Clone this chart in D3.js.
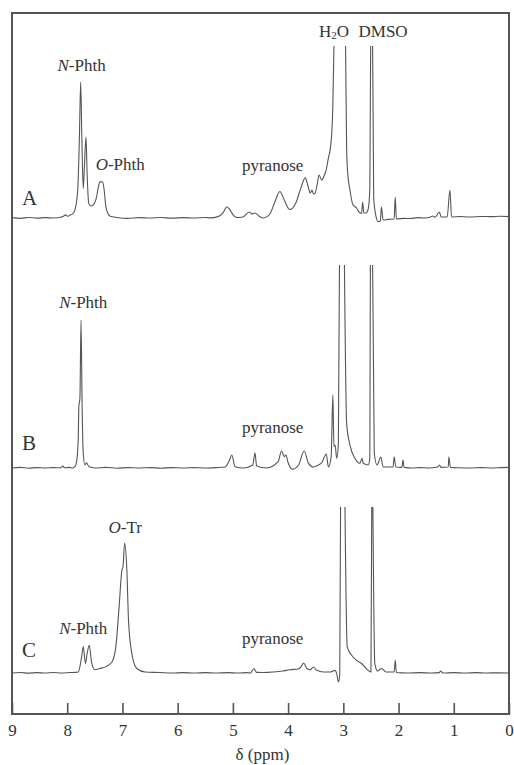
<!DOCTYPE html>
<html>
<head>
<meta charset="utf-8">
<script src="https://cdn.jsdelivr.net/npm/d3@7"></script>
<style>
  body { margin: 0; background: #fff; }
  svg { display: block; }
  text { font-family: "Liberation Serif", "Times New Roman", serif; fill: #333; }
</style>
</head>
<body>
<svg width="514" height="765"></svg>
<script>
// I. Données (ppm, intensité ; 100 = haut de la fenêtre, au-delà le pic est coupé)

let specA = [
    [9.00, 0.2], [8.85, -0.2], [8.70, 0.3], [8.55, -0.1], [8.40, 0.2], [8.25, 0], [8.12, 0.4],
    [8.06, 1.2], [8.03, 1.8], [7.99, 1.0], [7.95, 1.7], [7.90, 2.4], [7.86, 4.7], [7.81, 16],
    [7.78, 46], [7.756, 79], [7.735, 46], [7.71, 17], [7.69, 29], [7.66, 47], [7.64, 26],
    [7.61, 8.5], [7.57, 7], [7.53, 7.6], [7.47, 12], [7.43, 19], [7.41, 21], [7.36, 21],
    [7.33, 16], [7.30, 6.5], [7.26, 2.5], [7.22, 1], [7.10, 0.3], [6.90, -0.2], [6.70, 0.2],
    [6.50, 0], [6.30, 0.3], [6.10, -0.1], [5.90, 0.2], [5.70, 0], [5.50, 0.3], [5.41, 0.1],
    [5.27, 0.8], [5.18, 3], [5.11, 6.4], [5.07, 5.5], [5.03, 3.5], [4.98, 1.2], [4.93, 0.3],
    [4.82, 0.6], [4.70, 3.5], [4.65, 2.3], [4.60, 2.9], [4.53, 1.2], [4.45, 0], [4.38, 0.8],
    [4.33, 2.3], [4.24, 9.3], [4.15, 15.4], [4.07, 10.5], [3.97, 4.9], [3.86, 8.7], [3.77, 17.4],
    [3.69, 23.3], [3.64, 18.6], [3.60, 14.5], [3.57, 16.3], [3.54, 14], [3.51, 14.5], [3.47, 20.3],
    [3.44, 25], [3.39, 22], [3.35, 24.4], [3.31, 28], [3.27, 35], [3.24, 39.5], [3.21, 49],
    [3.19, 65], [3.17, 100], [3.06, 180], [2.96, 100], [2.94, 39.5], [2.92, 26], [2.88, 16.3],
    [2.83, 8], [2.76, 5.8], [2.72, 3.5], [2.67, 2.7], [2.65, 9.3], [2.63, 2.9], [2.59, 2.9],
    [2.55, 5.2], [2.52, 17], [2.505, 100], [2.49, 200], [2.47, 100], [2.45, 11.6], [2.41, 1.2],
    [2.37, -2.1], [2.33, -1.7], [2.31, 6.4], [2.28, -1.2], [2.19, -0.8], [2.08, -0.6], [2.06, 12.2],
    [2.04, -0.5], [1.90, -0.2], [1.79, -0.3], [1.65, 0.2], [1.52, 0], [1.42, 0.6], [1.38, 1.2],
    [1.34, 0.4], [1.26, 3.5], [1.23, 0.6], [1.12, 0.6], [1.07, 16.3], [1.04, 0.6], [0.90, 0.9],
    [0.71, 0.6], [0.50, 0.9], [0.34, 0.8], [0.15, 1.0], [0, 0.8]
];

let specB = [
    [9.00, 0], [8.85, 0.3], [8.70, -0.1], [8.55, 0.2], [8.40, 0], [8.25, 0.2], [8.12, 0.1],
    [8.08, 1], [8.05, 0.1], [7.95, 0.3], [7.91, 0], [7.86, 0.7], [7.83, 3], [7.80, 14.8],
    [7.79, 30], [7.77, 34.5], [7.75, 72.9], [7.73, 29.6], [7.71, 7.4], [7.68, 1.5], [7.65, 2.6],
    [7.61, 0.7], [7.50, 0], [7.30, 0.3], [7.10, -0.1], [6.90, 0.2], [6.70, 0], [6.50, 0.2],
    [6.30, -0.1], [6.10, 0.2], [5.90, 0], [5.70, 0.2], [5.50, 0], [5.30, 0.2], [5.14, 0.5],
    [5.06, 3.9], [5.02, 6.4], [4.96, 0.6], [4.81, 0], [4.64, 1.5], [4.60, 7.5], [4.57, 1],
    [4.39, 0], [4.18, 3.1], [4.12, 8.4], [4.07, 5.6], [4.04, 6.4], [4.00, 2.6], [3.92, -0.6],
    [3.81, 1.5], [3.71, 8.4], [3.63, 2.3], [3.54, 0.5], [3.45, 1.5], [3.39, 2.6], [3.31, 6.9],
    [3.27, 0.5], [3.22, 5.6], [3.19, 36], [3.17, 10.5], [3.15, 11.3], [3.12, 4.8], [3.09, 12],
    [3.07, 100], [3.02, 250], [2.98, 100], [2.94, 22], [2.88, 11.3], [2.79, 4.8], [2.70, 2.3],
    [2.66, 4.8], [2.64, 2.3], [2.55, 1.5], [2.52, 5], [2.51, 100], [2.49, 250], [2.47, 100],
    [2.44, 7.4], [2.39, 1.5], [2.32, 5.4], [2.28, 0.5], [2.10, 0.5], [2.08, 5.4], [2.05, 0.5],
    [1.94, 0.3], [1.92, 3.9], [1.90, 0.3], [1.75, 0], [1.61, 0.2], [1.45, 0], [1.29, 0.5],
    [1.26, 1.5], [1.23, 0.3], [1.10, 0.5], [1.09, 5.4], [1.06, 0.3], [0.90, 0.1], [0.71, 0],
    [0.50, 0.2], [0.30, 0], [0.15, 0.2], [0, 0.3]
];

let specC = [
    [9.00, 0], [8.85, 0.3], [8.70, -0.1], [8.55, 0.2], [8.40, 0], [8.25, 0.3], [8.10, 0],
    [7.95, 0.3], [7.85, 0.4], [7.80, 0.6], [7.74, 9.6], [7.71, 16], [7.67, 5.7], [7.64, 11.7],
    [7.60, 16.7], [7.56, 6.6], [7.50, 2], [7.41, 2.7], [7.29, 4], [7.19, 6.6], [7.12, 15.7],
    [7.06, 40], [7.01, 62], [6.99, 64], [6.96, 78.3], [6.92, 62], [6.89, 31.7], [6.83, 11.7],
    [6.74, 2.7], [6.59, 0.6], [6.32, 0.3], [6.10, 0], [5.90, 0.2], [5.70, 0], [5.50, 0.2],
    [5.30, 0], [5.10, 0.2], [4.90, 0], [4.75, 0.2], [4.68, 0], [4.62, 2.7], [4.57, 0.4],
    [4.45, 0.3], [4.27, 0.6], [4.10, 1.2], [3.97, 2], [3.82, 2.4], [3.76, 4], [3.72, 6],
    [3.66, 2.7], [3.60, 2], [3.54, 3.6], [3.48, 1.6], [3.36, 0.6], [3.24, 0.6], [3.15, 1.6],
    [3.12, -0.4], [3.09, -5.4], [3.065, -1], [3.05, 100], [3.01, 250], [2.97, 100], [2.93, 15.7],
    [2.85, 10.7], [2.76, 7.6], [2.67, 5.7], [2.55, 1.6], [2.50, 0.6], [2.485, 100], [2.475, 250],
    [2.465, 100], [2.43, 5.7], [2.38, 1.2], [2.31, 2.7], [2.22, 0.6], [2.08, 0.6], [2.06, 7.6],
    [2.04, 0.3], [1.85, 0], [1.61, 0.2], [1.40, 0], [1.26, 0.2], [1.24, 1.2], [1.19, 0],
    [1.00, 0.2], [0.80, 0], [0.60, 0.2], [0.40, 0], [0.20, 0.1], [0, 0]
];

let lettres = ["A", "B", "C"];

// étiquettes : préfixe en italique, reste en romain, position (ppm, intensité)
let notesA = [
    { it: "N", txt: "-Phth", ppm: 7.74, v: 85.6 },
    { it: "O", txt: "-Phth", ppm: 7.04, v: 27.9 },
    { it: "", txt: "pyranose", ppm: 4.28, v: 27.5 },
    { it: "", txt: "H2O", ppm: 3.17, v: 105 },
    { it: "", txt: "DMSO", ppm: 2.28, v: 105 }
];
let notesB = [
    { it: "N", txt: "-Phth", ppm: 7.71, v: 78.8 },
    { it: "", txt: "pyranose", ppm: 4.28, v: 17.4 }
];
let notesC = [
    { it: "O", txt: "-Tr", ppm: 6.95, v: 84.2 },
    { it: "N", txt: "-Phth", ppm: 7.71, v: 23.3 },
    { it: "", txt: "pyranose", ppm: 4.28, v: 17.3 }
];

let ticks = [9, 8, 7, 6, 5, 4, 3, 2, 1, 0];

// II. Dessin

let svg = d3.select("svg");

let cadre = { left: 12, right: 509, top: 13, bottom: 714 };

// ligne de base et haut de chaque spectre
let bandes = [
    { base: 218, haut: 46 },
    { base: 468, haut: 265 },
    { base: 673, haut: 507 }
];

let x = d3.scaleLinear().domain([9, 0]).range([cadre.left, cadre.right]);

svg.append("clipPath").attr("id", "zone")
    .append("rect")
    .attr("x", cadre.left)
    .attr("y", cadre.top)
    .attr("width", cadre.right - cadre.left)
    .attr("height", cadre.bottom - cadre.top);

let spectres = [specA, specB, specC];
let notes = [notesA, notesB, notesC];

spectres.forEach(function (spec, i) {
    let y = d3.scaleLinear().domain([0, 100]).range([bandes[i].base, bandes[i].haut]);

    let ligne = d3.line()
        .defined(d => d[1] <= 100)
        .x(d => x(d[0]))
        .y(d => y(d[1]))
        .curve(d3.curveMonotoneX);

    svg.append("path")
        .datum(spec)
        .attr("d", ligne)
        .attr("clip-path", "url(#zone)")
        .attr("fill", "none")
        .attr("stroke", "#555")
        .attr("stroke-width", 1.1)
        .attr("stroke-linejoin", "round");

    // lettre du spectre
    svg.append("text")
        .attr("x", x(8.82))
        .attr("y", y(i == 0 ? 7.6 : (i == 1 ? 8.9 : 9.5)))
        .attr("font-size", 21)
        .text(lettres[i]);

    // étiquettes
    notes[i].forEach(function (n) {
        let t = svg.append("text")
            .attr("x", x(n.ppm))
            .attr("y", y(n.v))
            .attr("text-anchor", "middle")
            .attr("font-size", 17);
        if (n.txt == "H2O") {
            t.append("tspan").text("H");
            t.append("tspan").attr("font-size", 11).attr("dy", 2).text("2");
            t.append("tspan").attr("dy", -2).text("O");
        } else {
            if (n.it != "") t.append("tspan").attr("font-style", "italic").text(n.it);
            t.append("tspan").text(n.txt);
        }
    });
});

// cadre
svg.append("rect")
    .attr("x", cadre.left)
    .attr("y", cadre.top)
    .attr("width", cadre.right - cadre.left)
    .attr("height", cadre.bottom - cadre.top)
    .attr("fill", "none")
    .attr("stroke", "#555")
    .attr("stroke-width", 2);

// axe des ppm, graduations vers l'intérieur
let axe = svg.append("g")
    .attr("transform", "translate(0," + cadre.bottom + ")")
    .call(d3.axisBottom(x).tickValues(ticks).tickFormat(d3.format("d"))
        .tickSizeInner(-11).tickSizeOuter(0).tickPadding(10));

axe.select(".domain").remove();
axe.selectAll(".tick line").attr("stroke", "#555").attr("stroke-width", 1.6);
axe.selectAll(".tick text")
    .attr("font-family", "Liberation Serif, Times New Roman, serif")
    .attr("font-size", 17)
    .attr("fill", "#333");

svg.append("text")
    .attr("x", (cadre.left + cadre.right) / 2 + 2)
    .attr("y", 760)
    .attr("text-anchor", "middle")
    .attr("font-size", 17)
    .text("δ (ppm)");
</script>
</body>
</html>
